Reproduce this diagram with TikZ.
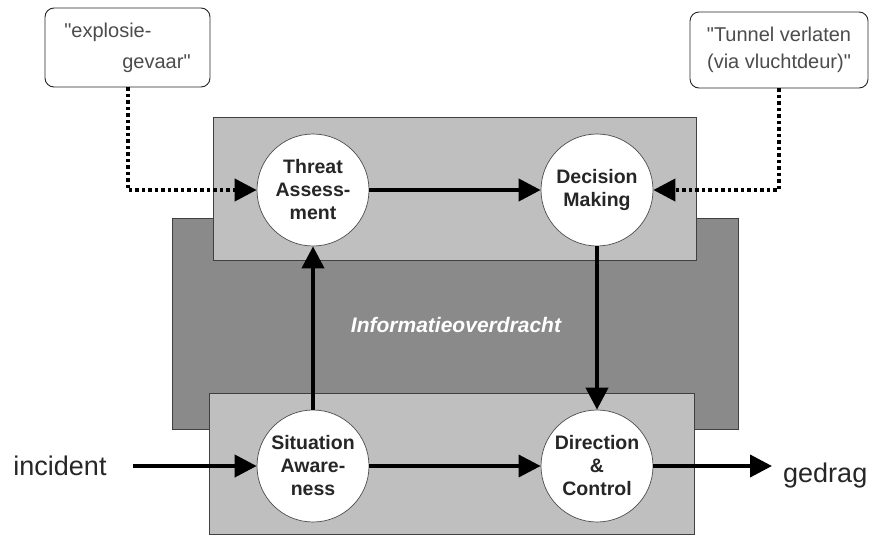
\documentclass[tikz,border=0pt]{standalone}
\usepackage{fontspec}
\setmainfont{Liberation Sans}
\newfontfamily\quotefont{Liberation Sans}
\usetikzlibrary{arrows.meta, positioning}

\definecolor{lightpanel}{HTML}{BFBFBF}
\definecolor{darkpanel}{HTML}{8A8A8A}

\tikzset{
    proc/.style = {circle, draw=black!70, line width=0.7pt, fill=white, minimum size=112pt, inner sep=0pt,
        align=center, text=black!85, font=\fontsize{19.5}{23}\selectfont\bfseries},
    quote/.style = {draw=black!85, line width=0.9pt, fill=white, rounded corners=9pt, align=center,
        text=black!70, font=\quotefont\fontsize{20}{27}\selectfont},
    word/.style = {inner sep=0pt, text=black!85, font=\fontsize{27}{30}\selectfont},
    panel/.style = {draw=black!75, line width=0.8pt},
    arr/.style = {line width=4pt, -{Triangle[length=22pt, width=22pt]}},
    dotarr/.style = {arr, dash pattern=on 3.5pt off 3pt},
}

\begin{document}
\begin{tikzpicture}[x=1pt, y=-1pt, node distance=284pt, on grid]
    \useasboundingbox (0,0) rectangle (869,536);

    % panels
    \filldraw [panel, fill=darkpanel] (172,218) rectangle (738,429);
    \filldraw [panel, fill=lightpanel] (213,117) rectangle (696,260);
    \filldraw [panel, fill=lightpanel] (209,393) rectangle (694,534);
    \node (info) at (456,325) [text=white, font=\fontsize{21}{24}\selectfont\bfseries\itshape] {Informatieoverdracht};

    \node (ta) [proc] at (313,190) {Threat\\Assess-\\ment};
    \node (dm) [proc, right = of ta] {Decision\\Making};
    \node (sa) [proc, below = 276pt of ta] {Situation\\Aware-\\ness};
    \node (dc) [proc, right = of sa] {Direction\\\&\\Control};

    \node (expl) [quote, align=left, minimum width=165pt, minimum height=79pt,
        font=\quotefont\fontsize{20}{31}\selectfont] at (127.5,47.5) {"explosie-\\\hspace*{58pt}gevaar"};
    \node (tun) [quote, minimum width=178pt, minimum height=76pt] at (779,50) {"Tunnel verlaten\\(via vluchtdeur)"};

    \node (inc) [word] at (60,466) {incident};
    \node (gd) [word, anchor=base west] at (783,482) {gedrag};

    \path [arr]
        (inc) edge [shorten <=26pt] (sa)
        (ta) edge (dm)
        (sa) edge (ta)
        (dm) edge (dc)
        (sa) edge [line width=3.5pt] (dc)
        (dc) edge [shorten >=11pt] (dc -| gd.west);

    \draw [dotarr] (expl) |- (ta);
    \draw [dotarr] (tun) |- (dm);
\end{tikzpicture}
\end{document}
